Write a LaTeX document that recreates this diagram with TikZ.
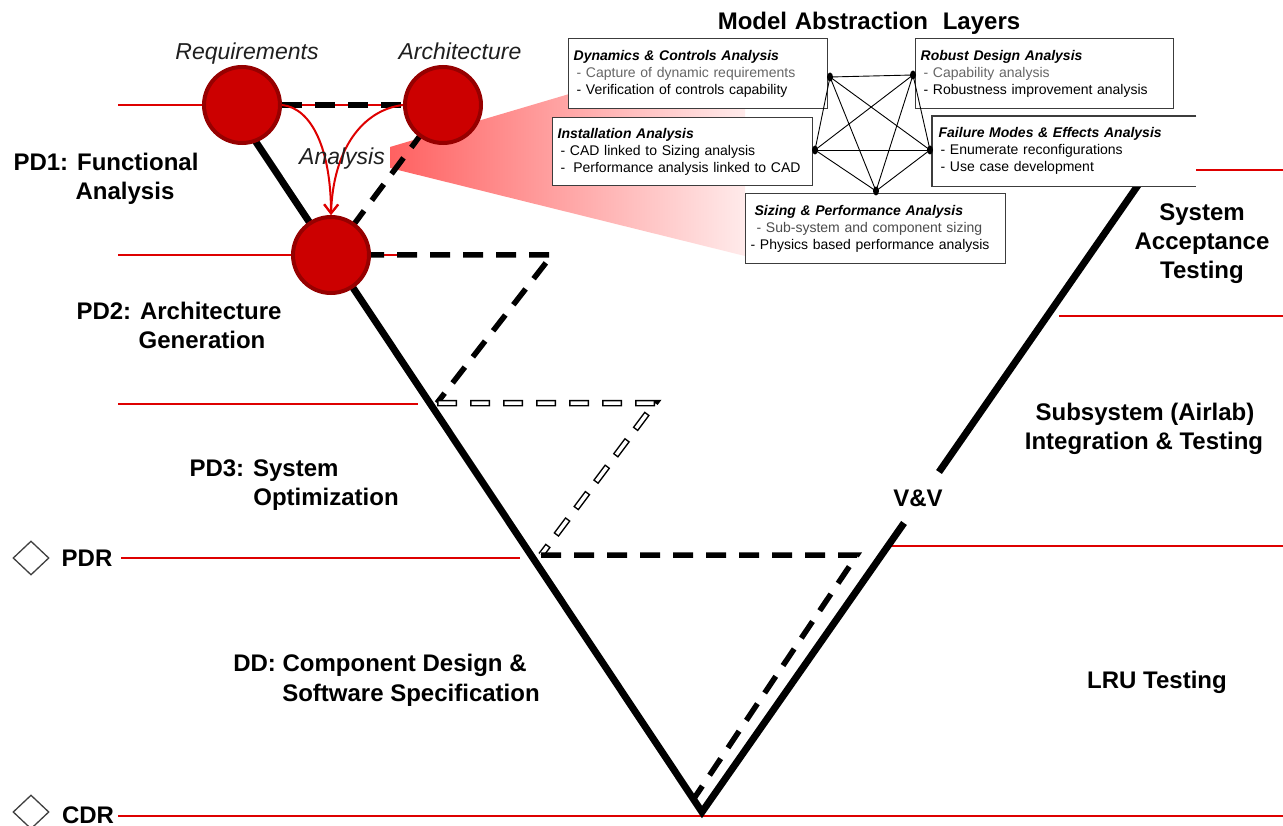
\documentclass[tikz,border=0pt]{standalone}
\usepackage{fontspec}
\setmainfont{Liberation Sans}
\usetikzlibrary{shapes.geometric,arrows.meta}

\definecolor{vred}{RGB}{222,0,0}
\definecolor{stagefill}{RGB}{204,0,0}
\definecolor{stagerim}{RGB}{150,0,0}
\definecolor{boxline}{RGB}{60,60,60}

\pgfdeclarelayer{under}
\pgfsetlayers{under,main}

\tikzset{
  phase/.style={font=\fontsize{24}{28}\selectfont\bfseries, anchor=base, inner sep=0pt},
  tag/.style={font=\fontsize{23}{27}\selectfont\itshape, text=black!88, anchor=base, inner sep=0pt},
  redline/.style={vred, line width=2pt},
  vline/.style={line width=7pt, line join=miter, line cap=butt},
  dashline/.style={line width=5.5pt, dash pattern=on 20pt off 13pt},
  hollowout/.style={line width=6.5pt, dash pattern=on 20pt off 13pt},
  hollowin/.style={white, line width=3.5pt, dash pattern=on 17pt off 16pt, dash phase=-1.5pt},
  stage/.style={circle, fill=stagefill, draw=stagerim, line width=4pt, minimum size=76pt, inner sep=0pt},
  layer/.style={draw=boxline, line width=1.3pt, fill=white, anchor=north west, align=left,
    inner xsep=5pt, inner ysep=0pt, font=\fontsize{14}{17}\selectfont},
  hub/.style={ellipse, fill=black, inner sep=0pt, minimum width=6pt, minimum height=9pt},
  link/.style={line width=0.9pt},
  review/.style={diamond, draw=black!75, line width=1.3pt, minimum width=36pt, minimum height=34pt, inner sep=0pt},
  flow/.style={vred, line width=2pt, -{Straight Barb[length=9pt,width=14pt]}}
}

\begin{document}
\begin{tikzpicture}[x=1pt,y=-1pt]
\useasboundingbox (0,0) rectangle (1283,826);

% ---- stage circles
\node[stage] (req) at (242,105) {};
\node[stage] (arch) at (443,105) {};
\node[stage] (ana) at (331,255) {};

% ---- V corner points and zig-zag turning points
\coordinate (vtopL) at (250,133);
\coordinate (vbot) at (702,812);
\coordinate (vvlo) at (904,523);
\coordinate (vvhi) at (939,472);
\coordinate (vtopR) at (1143,178);
\coordinate (k1) at (552,255);
\coordinate (k2) at (437,403);
\coordinate (k3) at (655,403);
\coordinate (k4) at (541,555);
\coordinate (k5) at (857,555);
\coordinate (k6) at (693,800);

\begin{pgfonlayer}{under}
  \fill[white] (0,0) rectangle (1283,826);
  % gate lines
  \draw[redline] (118,105) -- (arch.center);
  \draw[redline] (118,255) -- (400,255);
  \draw[redline] (118,404) -- (418,404);
  \draw[redline] (121,558) -- (520,558);
  \draw[redline] (118,816) -- (1283,816);
  \draw[redline] (1195,170) -- (1283,170);
  \draw[redline] (1059,316) -- (1283,316);
  \draw[redline] (890,546) -- (1283,546);

  % zoom fan from the analysis step to the model layers
  \shade[left color=red!62, right color=red!8]
    (390,147) -- (745,42) -- (745,256) -- (390,168) -- cycle;

  % the V
  \draw[vline] (vtopL) -- (vbot) -- (vvlo);
  \draw[vline] (vvhi) -- (vtopR);

  % iteration zig-zag
  \draw[dashline] (req.east) -- (arch.west);
  \draw[dashline] (arch.center) -- (ana.center);
  \draw[dashline] (ana.center) -- (k1) -- (k2);
  \draw[hollowout] (k2) -- (k3) -- (k4);
  \draw[hollowin] (k2) -- (k3) -- (k4);
  \draw[dashline] (k4) -- (k5) -- (k6);
\end{pgfonlayer}

% analysis arrows
\draw[flow] (req.east) .. controls (312,108) and (331,150) .. (ana.north);
\draw[flow] (arch.west) .. controls (362,110) and (333,150) .. (ana.north);

% ---- labels
\node[tag] (reqlabel) at (247,60) {Requirements};
\node[tag] (archlabel) at (460,60) {Architecture};
\node[tag] (analabel) at (342,165) {Analysis};

\node[phase] (pd1a) at (106,171) {PD1: Functional};
\node[phase] (pd1b) at (125,200) {Analysis};
\node[phase] (pd2a) at (179,320) {PD2: Architecture};
\node[phase] (pd2b) at (202,349) {Generation};
\node[phase] (pd3a) at (264,476) {PD3: System};
\node[phase] (pd3b) at (326,505) {Optimization};
\node[phase] (dda) at (380,671) {DD: Component Design \&};
\node[phase] (ddb) at (411,701) {Software Specification};
\node[phase] (pdr) at (87,566) {PDR};
\node[phase] (cdr) at (88,823) {CDR};
\node[review] (pdrmark) at (31,558) {};
\node[review] (cdrmark) at (31,812) {};

\node[phase] (sat1) at (1202,221) {System};
\node[phase] (sat2) at (1202,250) {Acceptance};
\node[phase] (sat3) at (1202,279) {Testing};
\node[phase] (sub1) at (1145,420) {Subsystem (Airlab)};
\node[phase] (sub2) at (1144,449) {Integration \& Testing};
\node[phase] (vv) at (918,506) {V\&V};
\node[phase] (lru) at (1157,688) {LRU Testing};

\node[phase] (title) at (869,30) {Model\hspace{1pt} Abstraction\hspace{8pt} Layers};

% ---- model abstraction layer boxes
\node[layer, text width=249pt, minimum height=70pt] (dyn) at (568,38)
  {\hspace{0pt}\textbf{\textit{Dynamics \& Controls Analysis}}\\
   \hspace{3pt}{\color{black!60}- Capture of dynamic requirements}\\
   \hspace{3pt}- Verification of controls capability};
\node[layer, text width=248pt, minimum height=70pt] (rob) at (915,38)
  {\textbf{\textit{Robust Design Analysis}}\\
   \hspace{3pt}{\color{black!60}- Capability analysis}\\
   \hspace{3pt}- Robustness improvement analysis};
\node[layer, text width=250pt, minimum height=68pt] (inst) at (552,117)
  {\textbf{\textit{Installation Analysis}}\\
   \hspace{3pt}- CAD linked to Sizing analysis\\
   \hspace{3pt}-\hspace{8pt}Performance analysis linked to CAD};
\node[layer, draw=none, text width=251pt, inner xsep=6pt, minimum height=69pt] (fmea) at (932,116)
  {\textbf{\textit{Failure Modes \& Effects Analysis}}\\
   \hspace{2pt}- Enumerate reconfigurations\\
   \hspace{2pt}- Use case development};
\draw[draw=boxline, line width=1.3pt] (fmea.north east) -- (fmea.north west) -- (fmea.south west) -- (fmea.south east);
\node[layer, text width=250pt, minimum height=70pt] (siz) at (745,193)
  {\hspace{4pt}\textbf{\textit{Sizing \& Performance Analysis}}\\
   \hspace{6pt}{\color{black!70}- Sub-system and component sizing}\\
   - Physics based performance analysis};

% ---- links between the layers
\node[hub] (h1) at (830,77) {};
\node[hub] (h2) at (913,75) {};
\node[hub] (h3) at (815,150) {};
\node[hub] (h4) at (930,150) {};
\node[hub] (h5) at (876,191) {};
\foreach \a/\b in {h1/h2,h1/h3,h1/h4,h1/h5,h2/h3,h2/h4,h2/h5,h3/h4,h3/h5,h4/h5}
  \draw[link] (\a.center) -- (\b.center);

\end{tikzpicture}
\end{document}
